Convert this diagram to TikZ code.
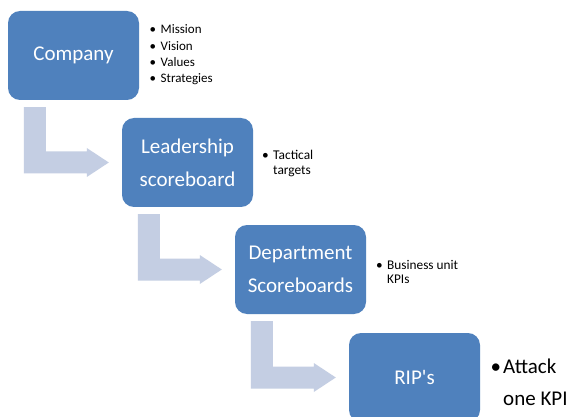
\documentclass[tikz,border=0pt]{standalone}
\usepackage{fontspec}
\setmainfont{Carlito}
\usetikzlibrary{calc}
\definecolor{boxblue}{HTML}{4F81BD}
\definecolor{arrowfill}{RGB}{196,206,227}
\newcommand{\bul}{\llap{\textbullet\hspace{4.5pt}}}
\newcommand{\bendarrow}[2]{%
  \coordinate (s1) at ($(#1.south west)+(16,-7)$);
  \coordinate (s2) at ($(#1.south west)+(38,-7)$);
  \coordinate (tp) at ($(#2.west)+(-13,0)$);
  \coordinate (h1) at ($(tp)+(-22,11)$);
  \coordinate (h2) at ($(tp)+(-22,14.5)$);
  \coordinate (h3) at ($(tp)+(-22,-14.5)$);
  \coordinate (h4) at ($(tp)+(-22,-11)$);
  \fill[arrowfill] (s1) -- (s2) -- (s2 |- h1) -- (h1) -- (h2) -- (tp) -- (h3) -- (h4) -- (s1 |- h4) -- cycle;
}
\tikzset{
  stagebox/.style={fill=boxblue, rounded corners=12pt, minimum width=131pt, minimum height=89pt,
    inner sep=0pt, text=white, align=center, font=\fontsize{21}{33}\selectfont},
  smallnote/.style={anchor=base west, inner sep=0pt, text=black},
}
\begin{document}
\begin{tikzpicture}[x=1pt,y=1pt]
\clip (0,0) rectangle (568,-417);
\fill[white] (0,0) rectangle (568,-417);
\node[stagebox] (c1) at (73.5,-55.5) {Company};
\node[stagebox] (c2) at (187.5,-162.5) {Leadership\\scoreboard};
\node[stagebox] (c3) at (300.5,-269.5) {Department\\Scoreboards};
\node[stagebox] (c4) at (414.5,-377.5) {RIP\textquotesingle s};
\bendarrow{c1}{c2}
\bendarrow{c2}{c3}
\bendarrow{c3}{c4}
\node[smallnote] (n1) at (160.5,-33.7) {\fontsize{13}{16.4}\selectfont\begin{tabular}[t]{@{}l@{}}\bul Mission\\\bul Vision\\\bul Values\\\bul Strategies\end{tabular}};
\node[smallnote] (n2) at (273,-160) {\fontsize{13.4}{14.5}\selectfont\begin{tabular}[t]{@{}l@{}}\bul Tactical\\targets\end{tabular}};
\node[smallnote] (n3) at (387,-269) {\fontsize{13.3}{14}\selectfont\begin{tabular}[t]{@{}l@{}}\bul Business unit\\KPIs\end{tabular}};
\node[smallnote] (n4) at (503,-373) {\fontsize{21}{32}\selectfont\begin{tabular}[t]{@{}l@{}}\llap{\textbullet\hspace{2pt}}Attack\\one KPI\end{tabular}};
\end{tikzpicture}
\end{document}
